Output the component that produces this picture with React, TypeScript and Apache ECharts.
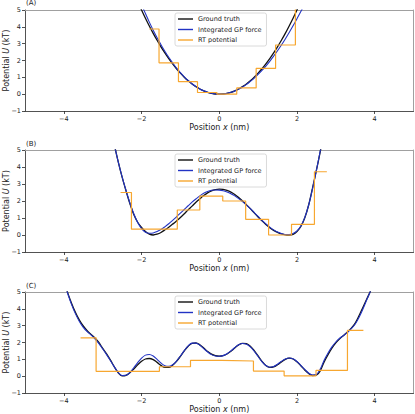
import React, { useEffect, useRef } from 'react';
import * as echarts from 'echarts';

// ---------- Data ----------
const X_TICKS = [-4, -2, 0, 2, 4];
const SERIES_NAMES = ['Ground truth', 'Integrated GP force', 'RT potential'];

// Panel A
const X_A = [-2.1,-2.0,-1.9,-1.8,-1.7,-1.6,-1.5,-1.4,-1.3,-1.2,-1.1,-1.0,-0.9,-0.8,-0.7,-0.6,-0.5,-0.4,-0.3,-0.2,-0.1,0,0.1,0.2,0.3,0.4,0.5,0.6,0.7,0.8,0.9,1.0,1.1,1.2,1.3,1.4,1.5,1.6,1.7,1.8,1.9,2.0,2.1,2.2];
const GT_A = [5.51,5.0,4.51,4.05,3.61,3.2,2.81,2.45,2.11,1.8,1.51,1.25,1.01,0.8,0.61,0.45,0.31,0.2,0.11,0.05,0.01,0,0.01,0.05,0.11,0.2,0.31,0.45,0.61,0.8,1.01,1.25,1.51,1.8,2.11,2.45,2.81,3.2,3.61,4.05,4.51,5.0,5.51,6.05];
const GP_A = [5.89,5.32,4.79,4.28,3.8,3.35,2.94,2.55,2.19,1.86,1.55,1.28,1.03,0.81,0.62,0.45,0.31,0.2,0.11,0.05,0.01,0,0.01,0.05,0.11,0.19,0.3,0.43,0.58,0.76,0.95,1.17,1.41,1.67,1.95,2.26,2.58,2.92,3.28,3.66,4.06,4.48,4.91,5.36];
const RT_EDGES_A = [-1.80,-1.55,-1.05,-0.56,-0.06,0.45,0.95,1.45,1.96,2.3];
const RT_VALUES_A = [3.87,1.86,0.74,0.10,0.0,0.37,1.53,2.92,6.5];

// Panel B
const X_B = [-2.7,-2.6,-2.5,-2.4,-2.3,-2.2,-2.1,-2.0,-1.9,-1.8,-1.7,-1.6,-1.5,-1.4,-1.3,-1.2,-1.1,-1.0,-0.9,-0.8,-0.7,-0.6,-0.5,-0.4,-0.3,-0.2,-0.1,0,0.1,0.2,0.3,0.4,0.5,0.6,0.7,0.8,0.9,1.0,1.1,1.2,1.3,1.4,1.5,1.6,1.7,1.8,1.9,2.0,2.1,2.2,2.3,2.4,2.5,2.6,2.7];
const GT_B = [5.3,4.3,3.4,2.6,1.85,1.2,0.75,0.44,0.2,0.05,0.0,0.05,0.15,0.3,0.46,0.64,0.83,1.03,1.25,1.48,1.7,1.93,2.13,2.32,2.48,2.6,2.67,2.7,2.68,2.62,2.52,2.38,2.2,2.0,1.78,1.55,1.3,1.06,0.83,0.62,0.43,0.27,0.15,0.06,0.01,0.0,0.04,0.2,0.5,1.0,1.75,2.75,3.8,4.9,6.1];
const GP_B = [5.3,4.3,3.42,2.62,1.88,1.25,0.74,0.38,0.16,0.1,0.12,0.2,0.32,0.48,0.66,0.86,1.07,1.29,1.5,1.72,1.93,2.12,2.3,2.45,2.56,2.63,2.65,2.64,2.6,2.53,2.43,2.3,2.14,1.96,1.76,1.55,1.32,1.09,0.86,0.65,0.46,0.3,0.17,0.08,0.03,0.03,0.09,0.24,0.53,1.02,1.75,2.72,3.8,4.95,6.2];
const RT_EDGES_B = [-2.54,-2.26,-1.67,-1.08,-0.50,0.09,0.68,1.27,1.86,2.45,2.77];
const RT_VALUES_B = [2.50,0.34,0.34,1.47,2.29,2.00,0.92,0.0,0.63,3.72];

// Panel C
const X_C = [-4.0,-3.9,-3.8,-3.7,-3.6,-3.5,-3.4,-3.3,-3.2,-3.1,-3.0,-2.9,-2.8,-2.7,-2.6,-2.5,-2.4,-2.3,-2.2,-2.1,-2.0,-1.9,-1.8,-1.7,-1.6,-1.5,-1.4,-1.3,-1.2,-1.1,-1.0,-0.9,-0.8,-0.7,-0.6,-0.5,-0.4,-0.3,-0.2,-0.1,0,0.1,0.2,0.3,0.4,0.5,0.6,0.7,0.8,0.9,1.0,1.1,1.2,1.3,1.4,1.5,1.6,1.7,1.8,1.9,2.0,2.1,2.2,2.3,2.4,2.5,2.6,2.7,2.8,2.9,3.0,3.1,3.2,3.3,3.4,3.5,3.6,3.7,3.8,3.9,4.0];
const GT_C = [5.7,4.95,4.32,3.78,3.33,2.98,2.7,2.48,2.27,2.0,1.65,1.32,0.95,0.55,0.2,0.02,0.05,0.2,0.43,0.67,0.88,1.02,1.05,0.98,0.82,0.64,0.52,0.52,0.65,0.88,1.18,1.5,1.78,1.95,1.97,1.86,1.67,1.47,1.31,1.22,1.19,1.22,1.32,1.48,1.68,1.86,1.95,1.93,1.78,1.52,1.2,0.88,0.63,0.52,0.55,0.68,0.85,1.0,1.07,1.02,0.85,0.62,0.37,0.16,0.04,0.06,0.32,0.85,1.28,1.66,1.98,2.22,2.42,2.62,2.85,3.15,3.6,4.1,4.6,5.1,5.8];
const GP_C = [5.6,4.9,4.25,3.7,3.25,2.9,2.65,2.45,2.22,1.95,1.62,1.28,0.92,0.55,0.22,0.04,0.05,0.22,0.5,0.8,1.07,1.25,1.29,1.2,1.0,0.78,0.62,0.58,0.68,0.9,1.2,1.52,1.8,1.96,1.96,1.84,1.64,1.44,1.28,1.2,1.18,1.22,1.33,1.5,1.7,1.87,1.94,1.9,1.74,1.48,1.17,0.86,0.63,0.53,0.57,0.71,0.88,1.02,1.08,1.03,0.87,0.64,0.4,0.19,0.07,0.1,0.42,0.95,1.38,1.74,2.03,2.25,2.42,2.6,2.82,3.1,3.5,4.0,4.55,5.1,5.8];
const RT_EDGES_C = [-3.57,-3.17,-2.36,-1.54,-0.74,0.06,0.88,1.67,2.49,3.30,3.71];
const RT_VALUES_C = [2.28,0.29,0.29,0.56,0.94,0.90,0.30,0.02,0.34,2.72];

const PANEL_DATA = [
  { label: '(A)', x: X_A, gt: GT_A, gp: GP_A, edges: RT_EDGES_A, vals: RT_VALUES_A },
  { label: '(B)', x: X_B, gt: GT_B, gp: GP_B, edges: RT_EDGES_B, vals: RT_VALUES_B },
  { label: '(C)', x: X_C, gt: GT_C, gp: GP_C, edges: RT_EDGES_C, vals: RT_VALUES_C },
];

// ---------- Layout ----------
const LAYOUT = [
  { top: 10, height: 101, legendTop: 13, labelY: 3.4 },
  { top: 150, height: 102, legendTop: 154, labelY: 144 },
  { top: 292, height: 101, legendTop: 296, labelY: 285.5 },
];
const FONT = 'DejaVu Sans';
const C_GT = '#111111';
const C_GP = '#2233c4';
const C_RT = '#f7a730';
const C_AXIS = '#262626';
const C_FRAME = '#a0a0a0';

const minus = (v: number) => (v < 0 ? '\u2212' + Math.abs(v) : String(v));

export default function App() {
  const ref = useRef<HTMLDivElement>(null);
  useEffect(() => {
    if (!ref.current) return;
    const chart = echarts.init(ref.current, null, { renderer: 'svg' });
    const grid: any[] = [];
    const xAxis: any[] = [];
    const yAxis: any[] = [];
    const series: any[] = [];
    const legend: any[] = [];
    const graphic: any[] = [];
    const nameStyle = {
      fontFamily: FONT, fontSize: 8, color: '#222',
      rich: { i: { fontStyle: 'italic', fontFamily: FONT, fontSize: 8, color: '#222' } },
    };
    PANEL_DATA.forEach((p, i) => {
      const L = LAYOUT[i];
      grid.push({
        left: 25, top: L.top, width: 388.5, height: L.height,
        outerBoundsMode: 'none', containLabel: false, show: false,
      });
      xAxis.push({
        type: 'value', gridIndex: i, min: -5, max: 5, position: 'bottom',
        name: 'Position {i|x} (nm)', nameLocation: 'middle', nameGap: 12, nameMoveOverlap: false,
        nameTextStyle: nameStyle,
        axisLine: { show: true, onZero: false, lineStyle: { color: C_AXIS, width: 0.8 } },
        axisTick: { show: true, length: 3, customValues: X_TICKS, lineStyle: { color: C_AXIS, width: 0.8 } },
        axisLabel: { customValues: X_TICKS, formatter: minus, fontFamily: FONT, fontSize: 6.5, color: '#222', margin: 4 },
        splitLine: { show: false },
      });
      yAxis.push({
        type: 'value', gridIndex: i, min: -1, max: 5, interval: 1, position: 'left',
        name: 'Potential {i|U} (kT)', nameLocation: 'middle', nameGap: 15, nameRotate: 90, nameMoveOverlap: false,
        nameTextStyle: nameStyle,
        axisLine: { show: true, onZero: false, lineStyle: { color: C_AXIS, width: 0.8 } },
        axisTick: { show: true, length: 3, lineStyle: { color: C_AXIS, width: 0.8 } },
        axisLabel: { formatter: minus, fontFamily: FONT, fontSize: 6.5, color: '#222', margin: 4 },
        splitLine: { show: false },
      });
      series.push({
        name: SERIES_NAMES[0], type: 'line', xAxisIndex: i, yAxisIndex: i,
        data: p.x.map((x, k) => [x, p.gt[k]]), showSymbol: false, symbol: 'none', smooth: 0.35, clip: true,
        lineStyle: { color: C_GT, width: 1.3 }, itemStyle: { color: C_GT },
      });
      series.push({
        name: SERIES_NAMES[1], type: 'line', xAxisIndex: i, yAxisIndex: i,
        data: p.x.map((x, k) => [x, p.gp[k]]), showSymbol: false, symbol: 'none', smooth: 0.35, clip: true,
        lineStyle: { color: C_GP, width: 1.1 }, itemStyle: { color: C_GP },
      });
      series.push({
        name: SERIES_NAMES[2], type: 'line', xAxisIndex: i, yAxisIndex: i,
        data: p.edges.map((e, k) => [e, p.vals[Math.min(k, p.vals.length - 1)]]),
        step: 'end', showSymbol: false, symbol: 'none', clip: true,
        lineStyle: { color: C_RT, width: 1.2 }, itemStyle: { color: C_RT },
      });
      legend.push({
        data: SERIES_NAMES.map((n, k) => ({ name: n, icon: 'rect', itemStyle: { color: [C_GT, C_GP, C_RT][k] } })),
        orient: 'vertical', left: 175, top: L.legendTop,
        itemWidth: 15, itemHeight: 1.4, itemGap: 2.5,
        padding: [2, 5, 2, 3], borderColor: '#d0d0d0', borderWidth: 0.8, borderRadius: 2,
        backgroundColor: '#ffffff',
        textStyle: { fontFamily: FONT, fontSize: 6.5, color: '#222', lineHeight: 8 },
        selectedMode: false,
      });
      graphic.push({
        type: 'text', x: 26, y: L.labelY,
        style: { text: p.label, fontFamily: FONT, fontSize: 7, fill: '#222', verticalAlign: 'middle' },
      });
    });
    // frame: top and right spines (lighter), drawn as extra axes on each grid
    PANEL_DATA.forEach((_, i) => {
      xAxis.push({
        type: 'value', gridIndex: i, min: -5, max: 5, position: 'top',
        axisLine: { show: true, onZero: false, lineStyle: { color: C_FRAME, width: 1 } },
        axisTick: { show: false }, axisLabel: { show: false }, splitLine: { show: false },
      });
      yAxis.push({
        type: 'value', gridIndex: i, min: -1, max: 5, interval: 1, position: 'right',
        axisLine: { show: true, onZero: false, lineStyle: { color: C_FRAME, width: 1 } },
        axisTick: { show: false }, axisLabel: { show: false }, splitLine: { show: false },
      });
    });
    chart.setOption({
      animation: false,
      backgroundColor: '#ffffff',
      grid, xAxis, yAxis, series, legend, graphic,
    });
    return () => chart.dispose();
  }, []);
  return <div ref={ref} style={{ position: 'absolute', left: 0, top: 0, width: 415, height: 414 }} />;
}
